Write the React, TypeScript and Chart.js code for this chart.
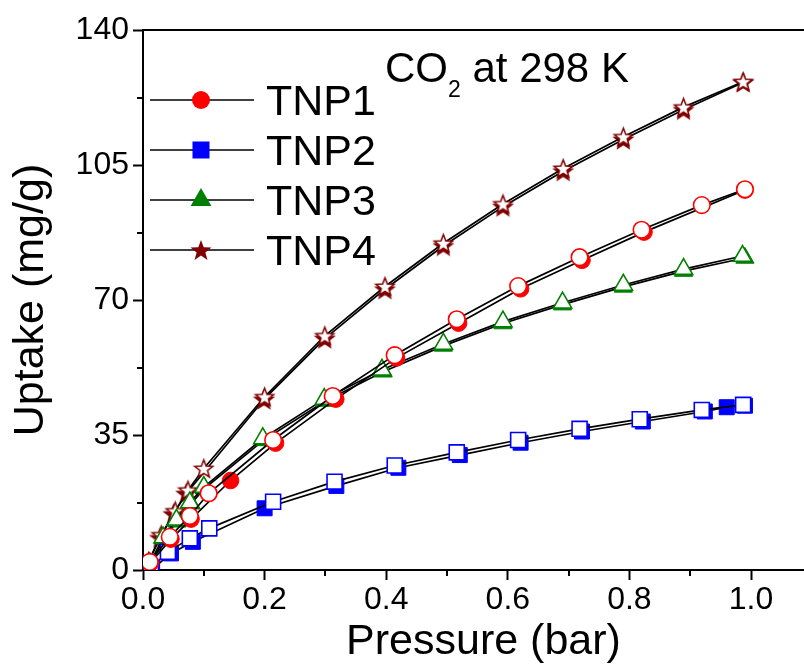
import React, { useEffect, useRef } from "react";
import { Chart, registerables } from "chart.js";

Chart.register(...registerables);

// ---------------- data ----------------
const seriesNames = ["TNP1", "TNP2", "TNP3", "TNP4"];
const seriesColors = ["#FF0000", "#0000FF", "#008000", "#800000"];

// TNP1 (circles)
const tnp1AdsP = [0.012, 0.046, 0.079, 0.144, 0.218, 0.317, 0.417, 0.519, 0.621, 0.722, 0.824, 0.99];
const tnp1AdsU = [1.8, 8.0, 13.2, 23.2, 32.9, 44.3, 55.0, 64.0, 72.9, 80.3, 87.6, 98.5];
const tnp1DesP = [0.99, 0.919, 0.82, 0.718, 0.617, 0.516, 0.414, 0.312, 0.214, 0.108, 0.077, 0.044, 0.011];
const tnp1DesU = [98.7, 94.6, 88.2, 81.1, 73.6, 65.0, 55.7, 45.1, 33.7, 19.9, 14.0, 8.6, 2.1];

// TNP2 (squares)
const tnp2AdsP = [0.015, 0.046, 0.082, 0.2, 0.318, 0.42, 0.521, 0.621, 0.722, 0.822, 0.924, 0.96, 0.99];
const tnp2AdsU = [0.2, 4.3, 7.3, 16.0, 21.8, 26.5, 29.8, 33.0, 35.9, 38.5, 41.1, 42.2, 42.6];
const tnp2DesP = [0.987, 0.919, 0.817, 0.718, 0.617, 0.516, 0.414, 0.315, 0.214, 0.109, 0.077, 0.041, 0.013];
const tnp2DesU = [42.8, 41.5, 39.1, 36.6, 33.7, 30.5, 27.1, 22.9, 17.7, 10.8, 8.2, 4.7, 0.4];

// TNP3 (triangles)
const tnp3AdsP = [0.012, 0.034, 0.056, 0.079, 0.101, 0.198, 0.3, 0.395, 0.494, 0.592, 0.69, 0.79, 0.889, 0.99];
const tnp3AdsU = [1.3, 8.1, 12.5, 17.2, 21.1, 33.6, 43.8, 51.4, 58.1, 63.9, 68.8, 73.4, 77.5, 80.9];
const tnp3DesP = [0.986, 0.889, 0.79, 0.69, 0.592, 0.494, 0.393, 0.298, 0.197, 0.1, 0.077, 0.055, 0.033, 0.011];
const tnp3DesU = [81.4, 78.0, 73.9, 69.3, 64.4, 58.6, 51.9, 44.3, 34.1, 21.5, 17.5, 13.0, 8.4, 1.7];

// TNP4 (stars)
const tnp4AdsP = [0.007, 0.028, 0.05, 0.071, 0.199, 0.299, 0.398, 0.494, 0.592, 0.691, 0.79, 0.889, 0.987];
const tnp4AdsU = [1.5, 8.3, 14.5, 19.8, 44.2, 60.0, 72.8, 84.0, 94.2, 103.4, 111.6, 119.3, 126.4];
const tnp4DesP = [0.987, 0.889, 0.79, 0.691, 0.592, 0.494, 0.398, 0.299, 0.2, 0.1, 0.074, 0.053, 0.03, 0.009];
const tnp4DesU = [126.6, 120.0, 112.3, 104.1, 94.9, 84.7, 73.5, 60.7, 44.9, 26.3, 20.7, 15.3, 9.1, 2.2];

const xMajorTicks = [0, 0.2, 0.4, 0.6, 0.8, 1.0];
const xMinorTicks = [0.1, 0.3, 0.5, 0.7, 0.9, 1.1];
const yMajorTicks = [0, 35, 70, 105, 140];
const yMinorTicks = [17.5, 52.5, 87.5, 122.5];

const titleText = ["CO", "2", " at 298 K"];
const xTitle = "Pressure (bar)";
const yTitle = "Uptake (mg/g)";

// ---------------- helpers ----------------
const FONT = '"Liberation Sans", Arial, Helvetica, sans-serif';
const CANVAS_W = 824;
const CANVAS_H = 670;

function starPath(ctx: CanvasRenderingContext2D, cx: number, cy: number, R: number, r: number) {
  ctx.beginPath();
  for (let i = 0; i < 10; i++) {
    const a = -Math.PI / 2 + (i * Math.PI) / 5;
    const rad = i % 2 === 0 ? R : r;
    const x = cx + Math.cos(a) * rad;
    const y = cy + Math.sin(a) * rad;
    if (i === 0) ctx.moveTo(x, y);
    else ctx.lineTo(x, y);
  }
  ctx.closePath();
}

function makeStar(color: string, filled: boolean, R: number) {
  const c = document.createElement("canvas");
  const s = Math.ceil(R * 2 + 4);
  c.width = s;
  c.height = s;
  const ctx = c.getContext("2d")!;
  starPath(ctx, s / 2, s / 2 + 0.8, R, R * 0.42);
  ctx.fillStyle = filled ? color : "#ffffff";
  ctx.fill();
  ctx.lineWidth = 1.5;
  ctx.strokeStyle = color;
  ctx.stroke();
  return c;
}

function toPts(xs: number[], ys: number[]) {
  return xs.map((x, i) => ({ x, y: ys[i] }));
}

function drawMarker(ctx: CanvasRenderingContext2D, kind: string, x: number, y: number, color: string) {
  ctx.save();
  ctx.fillStyle = color;
  ctx.strokeStyle = color;
  ctx.lineWidth = 1;
  if (kind === "circle") {
    ctx.beginPath();
    ctx.arc(x, y, 9, 0, Math.PI * 2);
    ctx.fill();
  } else if (kind === "rect") {
    ctx.fillRect(x - 8.5, y - 8.5, 17, 17);
  } else if (kind === "triangle") {
    const r = 12;
    ctx.beginPath();
    ctx.moveTo(x, y - r);
    ctx.lineTo(x + r * Math.sin((2 * Math.PI) / 3), y - r * Math.cos((2 * Math.PI) / 3));
    ctx.lineTo(x + r * Math.sin((4 * Math.PI) / 3), y - r * Math.cos((4 * Math.PI) / 3));
    ctx.closePath();
    ctx.fill();
  } else {
    starPath(ctx, x, y + 1, 11, 4.6);
    ctx.fill();
  }
  ctx.restore();
}

export default function App() {
  const ref = useRef<HTMLCanvasElement | null>(null);

  useEffect(() => {
    document.body.style.margin = "0";
    const canvas = ref.current;
    if (!canvas) return;

    const kinds = ["circle", "rect", "triangle", "star"];
    const radii = [8.3, 10.6, 10.5, 9.5];
    const adsX = [tnp1AdsP, tnp2AdsP, tnp3AdsP, tnp4AdsP];
    const adsY = [tnp1AdsU, tnp2AdsU, tnp3AdsU, tnp4AdsU];
    const desX = [tnp1DesP, tnp2DesP, tnp3DesP, tnp4DesP];
    const desY = [tnp1DesU, tnp2DesU, tnp3DesU, tnp4DesU];

    const datasets: any[] = [];
    seriesNames.forEach((name, i) => {
      const color = seriesColors[i];
      const isStar = kinds[i] === "star";
      datasets.push({
        label: name + " ads",
        data: toPts(adsX[i], adsY[i]),
        showLine: true,
        borderColor: "#000000",
        borderWidth: 1.7,
        pointStyle: isStar ? makeStar(color, true, radii[i]) : kinds[i],
        pointRadius: radii[i],
        pointBackgroundColor: color,
        pointBorderColor: color,
        pointBorderWidth: 1,
        order: 10 + i * 2 + 1,
      });
      datasets.push({
        label: name + " des",
        data: toPts(desX[i], desY[i]),
        showLine: true,
        borderColor: "#000000",
        borderWidth: 1.7,
        pointStyle: isStar ? makeStar(color, false, radii[i]) : kinds[i],
        pointRadius: radii[i],
        pointBackgroundColor: "#ffffff",
        pointBorderColor: color,
        pointBorderWidth: 1.6,
        order: 10 + i * 2,
      });
    });

    const decorPlugin = {
      id: "decor",
      afterDraw(chart: any) {
        const { ctx, chartArea, scales } = chart;
        const xs = scales.x;
        const ys = scales.y;
        ctx.save();
        // top frame line
        ctx.strokeStyle = "#000";
        ctx.lineWidth = 2;
        ctx.beginPath();
        ctx.moveTo(chartArea.left - 1, chartArea.top);
        ctx.lineTo(chartArea.right + 2, chartArea.top);
        ctx.stroke();
        // minor ticks
        ctx.lineWidth = 2;
        xMinorTicks.forEach((v) => {
          const px = Math.round(xs.getPixelForValue(v));
          ctx.beginPath();
          ctx.moveTo(px, chartArea.bottom);
          ctx.lineTo(px, chartArea.bottom + 6);
          ctx.stroke();
        });
        yMinorTicks.forEach((v) => {
          const py = Math.round(ys.getPixelForValue(v));
          ctx.beginPath();
          ctx.moveTo(chartArea.left, py);
          ctx.lineTo(chartArea.left - 6, py);
          ctx.stroke();
        });

        // legend
        const legendY = [100, 150, 200, 250];
        seriesNames.forEach((name, i) => {
          const y = legendY[i];
          ctx.strokeStyle = "#000";
          ctx.lineWidth = 1.5;
          ctx.beginPath();
          ctx.moveTo(150, y);
          ctx.lineTo(254, y);
          ctx.stroke();
          drawMarker(ctx, kinds[i], 201, y, seriesColors[i]);
          ctx.fillStyle = "#000";
          ctx.font = `43px ${FONT}`;
          ctx.textAlign = "left";
          ctx.textBaseline = "alphabetic";
          ctx.fillText(name, 266, y + 15);
        });

        // annotation CO2 at 298 K
        ctx.fillStyle = "#000";
        ctx.textAlign = "left";
        ctx.textBaseline = "alphabetic";
        ctx.font = `42px ${FONT}`;
        let tx = 385;
        ctx.fillText(titleText[0], tx, 82);
        tx += ctx.measureText(titleText[0]).width;
        ctx.font = `23px ${FONT}`;
        ctx.fillText(titleText[1], tx, 97);
        tx += ctx.measureText(titleText[1]).width;
        ctx.font = `42px ${FONT}`;
        ctx.fillText(titleText[2], tx, 82);
        ctx.restore();
      },
    };

    const chart = new Chart(canvas, {
      type: "scatter",
      data: { datasets },
      options: {
        animation: false,
        responsive: false,
        events: [],
        layout: { autoPadding: false, padding: { top: 30, left: 0, right: 0, bottom: 0 } },
        plugins: {
          legend: { display: false },
          tooltip: { enabled: false },
        },
        elements: { line: { tension: 0 } },
        scales: {
          x: {
            type: "linear",
            min: 0,
            max: 1.12,
            afterFit: (s: any) => {
              s.height = 100;
              s.paddingLeft = 0;
              s.paddingRight = 0;
            },
            afterBuildTicks: (s: any) => {
              s.ticks = xMajorTicks.map((v) => ({ value: v }));
            },
            ticks: {
              autoSkip: false,
              maxRotation: 0,
              padding: 1,
              color: "#000",
              font: { family: FONT, size: 32 },
              callback: (v: any) => Number(v).toFixed(1),
            },
            grid: {
              drawOnChartArea: false,
              drawTicks: true,
              tickLength: 10,
              tickWidth: 2,
              tickColor: "#000",
            },
            border: { display: true, color: "#000", width: 2 },
            title: {
              display: true,
              text: xTitle,
              color: "#000",
              font: { family: FONT, size: 43, lineHeight: 1 },
              padding: { top: 0, bottom: 6 },
            },
          },
          y: {
            type: "linear",
            min: 0,
            max: 140,
            afterFit: (s: any) => {
              s.width = 143;
              s.paddingTop = 0;
              s.paddingBottom = 0;
            },
            afterBuildTicks: (s: any) => {
              s.ticks = yMajorTicks.map((v) => ({ value: v }));
            },
            ticks: {
              autoSkip: false,
              padding: 4,
              color: "#000",
              font: { family: FONT, size: 32 },
              callback: (v: any) => String(v),
            },
            grid: {
              drawOnChartArea: false,
              drawTicks: true,
              tickLength: 10,
              tickWidth: 2,
              tickColor: "#000",
            },
            border: { display: true, color: "#000", width: 2 },
            title: {
              display: true,
              text: yTitle,
              color: "#000",
              font: { family: FONT, size: 43, lineHeight: 1 },
              padding: { top: 10, bottom: 0 },
            },
          },
        },
      },
      plugins: [decorPlugin],
    });

    return () => {
      chart.destroy();
    };
  }, []);

  return (
    <div style={{ width: 804, height: CANVAS_H, overflow: "hidden", position: "relative" }}>
      <div style={{ position: "absolute", left: 0, top: 0, width: CANVAS_W, height: CANVAS_H }}>
        <canvas
          ref={ref}
          width={CANVAS_W}
          height={CANVAS_H}
          style={{ display: "block", width: CANVAS_W, height: CANVAS_H }}
        />
      </div>
    </div>
  );
}
